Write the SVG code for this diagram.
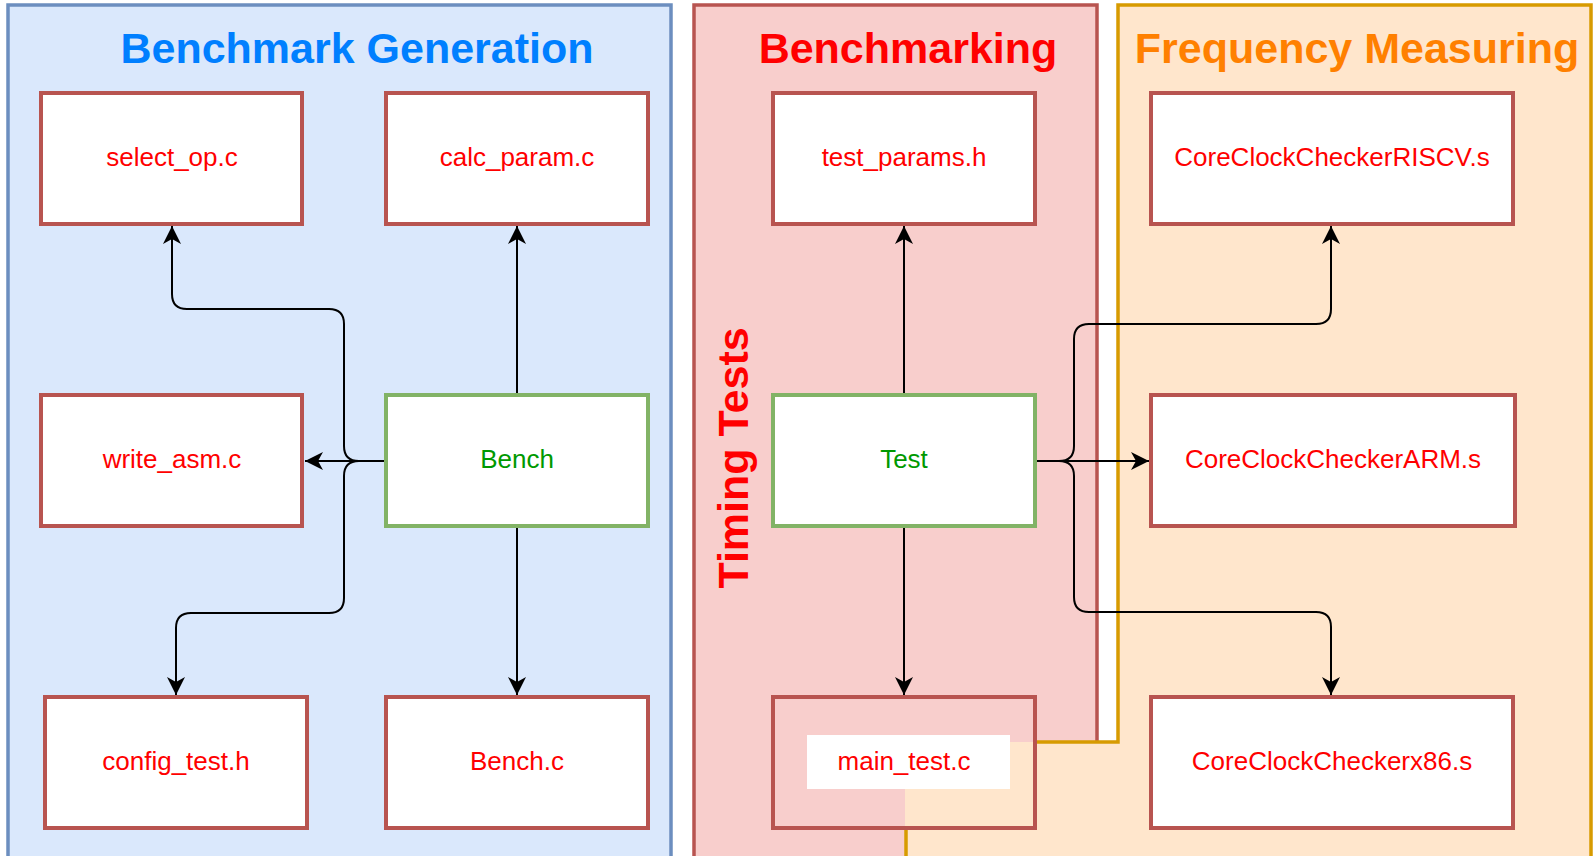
<svg xmlns="http://www.w3.org/2000/svg" width="1593" height="856" viewBox="0 0 1593 856">
  <defs>
    <style>
      .title { font-family: "Liberation Sans", Arial, sans-serif; font-weight: bold; font-size: 43px; text-anchor: middle; }
      .lbl { font-family: "Liberation Sans", Arial, sans-serif; font-size: 26px; text-anchor: middle; fill: #ff0000; }
      .ok { fill: #009900; }
      .file { fill: #ffffff; stroke: #b85450; stroke-width: 4; }
      .main { fill: #ffffff; stroke: #82b366; stroke-width: 4; }
      .edge { fill: none; stroke: #000000; stroke-width: 2; marker-end: url(#arrow); }
    </style>
    <marker id="arrow" markerUnits="userSpaceOnUse" markerWidth="22" markerHeight="22" viewBox="-20 -11 22 22" refX="0" refY="0" orient="auto">
      <path d="M0,0 L-18,-9 L-13,0 L-18,9 Z" fill="#000000"/>
    </marker>
  </defs>

  <rect width="1593" height="856" fill="#ffffff"/>

  <!-- swimlane areas -->
  <g id="area-generation">
    <rect x="8" y="5" width="663" height="870" fill="#dae8fc" stroke="#6c8ebf" stroke-width="3.5"/>
    <text class="title" x="357" y="63" fill="#007fff">Benchmark Generation</text>
  </g>
  <g id="area-benchmarking">
    <polygon points="694,5 1097,5 1097,742 905,742 905,875 694,875" fill="#f8cecc"/>
    <polyline points="1097,742 1097,5 694,5 694,875" fill="none" stroke="#b85450" stroke-width="3.5"/>
    <text class="title" x="908" y="63" fill="#ff0000">Benchmarking</text>
    <text class="title" transform="translate(748,458) rotate(-90)" fill="#ff0000">Timing Tests</text>
  </g>
  <g id="area-frequency">
    <polygon points="1118,5 1591,5 1591,875 905,875 905,742 1118,742" fill="#ffe6cc"/>
    <polyline points="1035,742 1118,742 1118,5 1591,5 1591,875" fill="none" stroke="#d79b00" stroke-width="3.5"/>
    <line x1="906" y1="828" x2="906" y2="875" stroke="#d79b00" stroke-width="3.5"/>
    <text class="title" x="1357" y="63" fill="#ff8000">Frequency Measuring</text>
  </g>

  <!-- connectors -->
  <g id="connectors">
    <path class="edge" d="M386,461 H359 Q344,461 344,446 V324 Q344,309 329,309 H187 Q172,309 172,294 V226"/>
    <path class="edge" d="M386,461 H359 Q344,461 344,476 V598 Q344,613 329,613 H191 Q176,613 176,628 V695"/>
    <path class="edge" d="M386,461 H305"/>
    <path class="edge" d="M517,395 V226"/>
    <path class="edge" d="M517,526 V695"/>
    <path class="edge" d="M904,395 V226"/>
    <path class="edge" d="M904,526 V695"/>
    <path class="edge" d="M1035,461 H1149"/>
    <path class="edge" d="M1035,461 H1059 Q1074,461 1074,446 V339 Q1074,324 1089,324 H1316 Q1331,324 1331,309 V226"/>
    <path class="edge" d="M1035,461 H1059 Q1074,461 1074,476 V597 Q1074,612 1089,612 H1316 Q1331,612 1331,627 V695"/>
  </g>

  <!-- nodes -->
  <g id="select_op">
    <rect class="file" x="41" y="93" width="261" height="131"/>
    <text class="lbl" x="172" y="166">select_op.c</text>
  </g>
  <g id="calc_param">
    <rect class="file" x="386" y="93" width="262" height="131"/>
    <text class="lbl" x="517" y="166">calc_param.c</text>
  </g>
  <g id="write_asm">
    <rect class="file" x="41" y="395" width="261" height="131"/>
    <text class="lbl" x="172" y="468">write_asm.c</text>
  </g>
  <g id="bench">
    <rect class="main" x="386" y="395" width="262" height="131"/>
    <text class="lbl ok" x="517" y="468">Bench</text>
  </g>
  <g id="config_test">
    <rect class="file" x="45" y="697" width="262" height="131"/>
    <text class="lbl" x="176" y="770">config_test.h</text>
  </g>
  <g id="bench_c">
    <rect class="file" x="386" y="697" width="262" height="131"/>
    <text class="lbl" x="517" y="770">Bench.c</text>
  </g>
  <g id="test_params">
    <rect class="file" x="773" y="93" width="262" height="131"/>
    <text class="lbl" x="904" y="166">test_params.h</text>
  </g>
  <g id="test">
    <rect class="main" x="773" y="395" width="262" height="131"/>
    <text class="lbl ok" x="904" y="468">Test</text>
  </g>
  <g id="main_test">
    <rect x="773" y="697" width="262" height="131" fill="none" stroke="#b85450" stroke-width="4"/>
    <rect x="807" y="735" width="203" height="54" fill="#ffffff"/>
    <text class="lbl" x="904" y="770">main_test.c</text>
  </g>
  <g id="ccc_riscv">
    <rect class="file" x="1151" y="93" width="362" height="131"/>
    <text class="lbl" x="1332" y="166">CoreClockCheckerRISCV.s</text>
  </g>
  <g id="ccc_arm">
    <rect class="file" x="1151" y="395" width="364" height="131"/>
    <text class="lbl" x="1333" y="468">CoreClockCheckerARM.s</text>
  </g>
  <g id="ccc_x86">
    <rect class="file" x="1151" y="697" width="362" height="131"/>
    <text class="lbl" x="1332" y="770">CoreClockCheckerx86.s</text>
  </g>
</svg>
